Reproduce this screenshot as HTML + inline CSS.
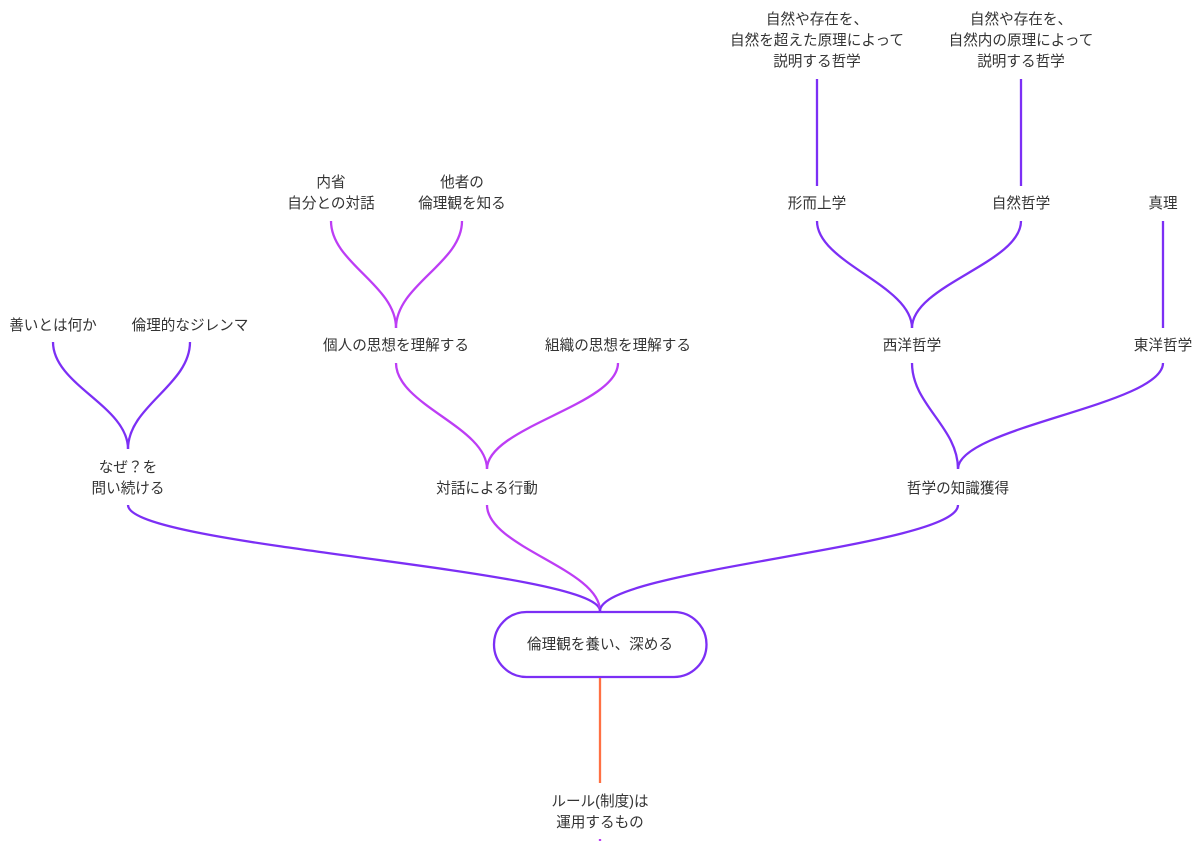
<!DOCTYPE html>
<html lang="ja"><head><meta charset="utf-8"><style>
html,body{margin:0;padding:0;background:#fff}
body{width:1200px;height:841px;overflow:hidden;position:relative}
svg{position:absolute;left:0;top:0}
text{font-family:"Liberation Sans","Noto Sans CJK JP",sans-serif;font-size:14.6px;fill:#333;text-anchor:middle}
path,rect{fill:none;stroke-width:2.3;stroke-linecap:butt}
.p{stroke:#7c2ff5}.m{stroke:#bd3df5}.o{stroke:#ff7043}
</style></head><body>
<svg width="1200" height="841" viewBox="0 0 1200 841" xmlns="http://www.w3.org/2000/svg">
<path class="p" d="M817 79V186"/>
<path class="p" d="M1021 79V186"/>
<path class="p" d="M1163 221V328"/>
<path class="p" d="M817 221C817 263 912 285 912 328"/>
<path class="p" d="M1021 221C1021 263 912 285 912 328"/>
<path class="m" d="M331 221C331 263 396 285 396 328"/>
<path class="m" d="M462 221C462 263 396 285 396 328"/>
<path class="p" d="M53 342C53 385 128 406 128 449"/>
<path class="p" d="M190 342C190 385 128 406 128 449"/>
<path class="m" d="M396 363C396 405 487 427 487 469"/>
<path class="m" d="M618 363C618 405 487 427 487 469"/>
<path class="p" d="M912 363C912 405 958 427 958 469"/>
<path class="p" d="M1163 363C1163 405 958 427 958 469"/>
<path class="p" d="M128 505C128 547 600 569 600 611"/>
<path class="m" d="M487 505C487 547 600 569 600 611"/>
<path class="p" d="M958 505C958 547 600 569 600 611"/>
<rect class="p" x="494" y="612" width="212.500" height="65" rx="32.500"/>
<path class="o" d="M600 678V783"/>
<path class="m" d="M600 839V841"/>
<text x="817" y="24">自然や存在を、</text>
<text x="817" y="45">自然を超えた原理によって</text>
<text x="817" y="66">説明する哲学</text>
<text x="1021" y="24">自然や存在を、</text>
<text x="1021" y="45">自然内の原理によって</text>
<text x="1021" y="66">説明する哲学</text>
<text x="817" y="208">形而上学</text>
<text x="1021" y="208">自然哲学</text>
<text x="1163" y="208">真理</text>
<text x="331" y="187">内省</text>
<text x="331" y="208">自分との対話</text>
<text x="462" y="187">他者の</text>
<text x="462" y="208">倫理観を知る</text>
<text x="53" y="330">善いとは何か</text>
<text x="190" y="330">倫理的なジレンマ</text>
<text x="396" y="350">個人の思想を理解する</text>
<text x="618" y="350">組織の思想を理解する</text>
<text x="912" y="350">西洋哲学</text>
<text x="1163" y="350">東洋哲学</text>
<text x="128" y="472">なぜ？を</text>
<text x="128" y="493">問い続ける</text>
<text x="487" y="493">対話による行動</text>
<text x="958" y="493">哲学の知識獲得</text>
<text x="600" y="649">倫理観を養い、深める</text>
<text x="600" y="806">ルール(制度)は</text>
<text x="600" y="827">運用するもの</text>
</svg>
</body></html>
